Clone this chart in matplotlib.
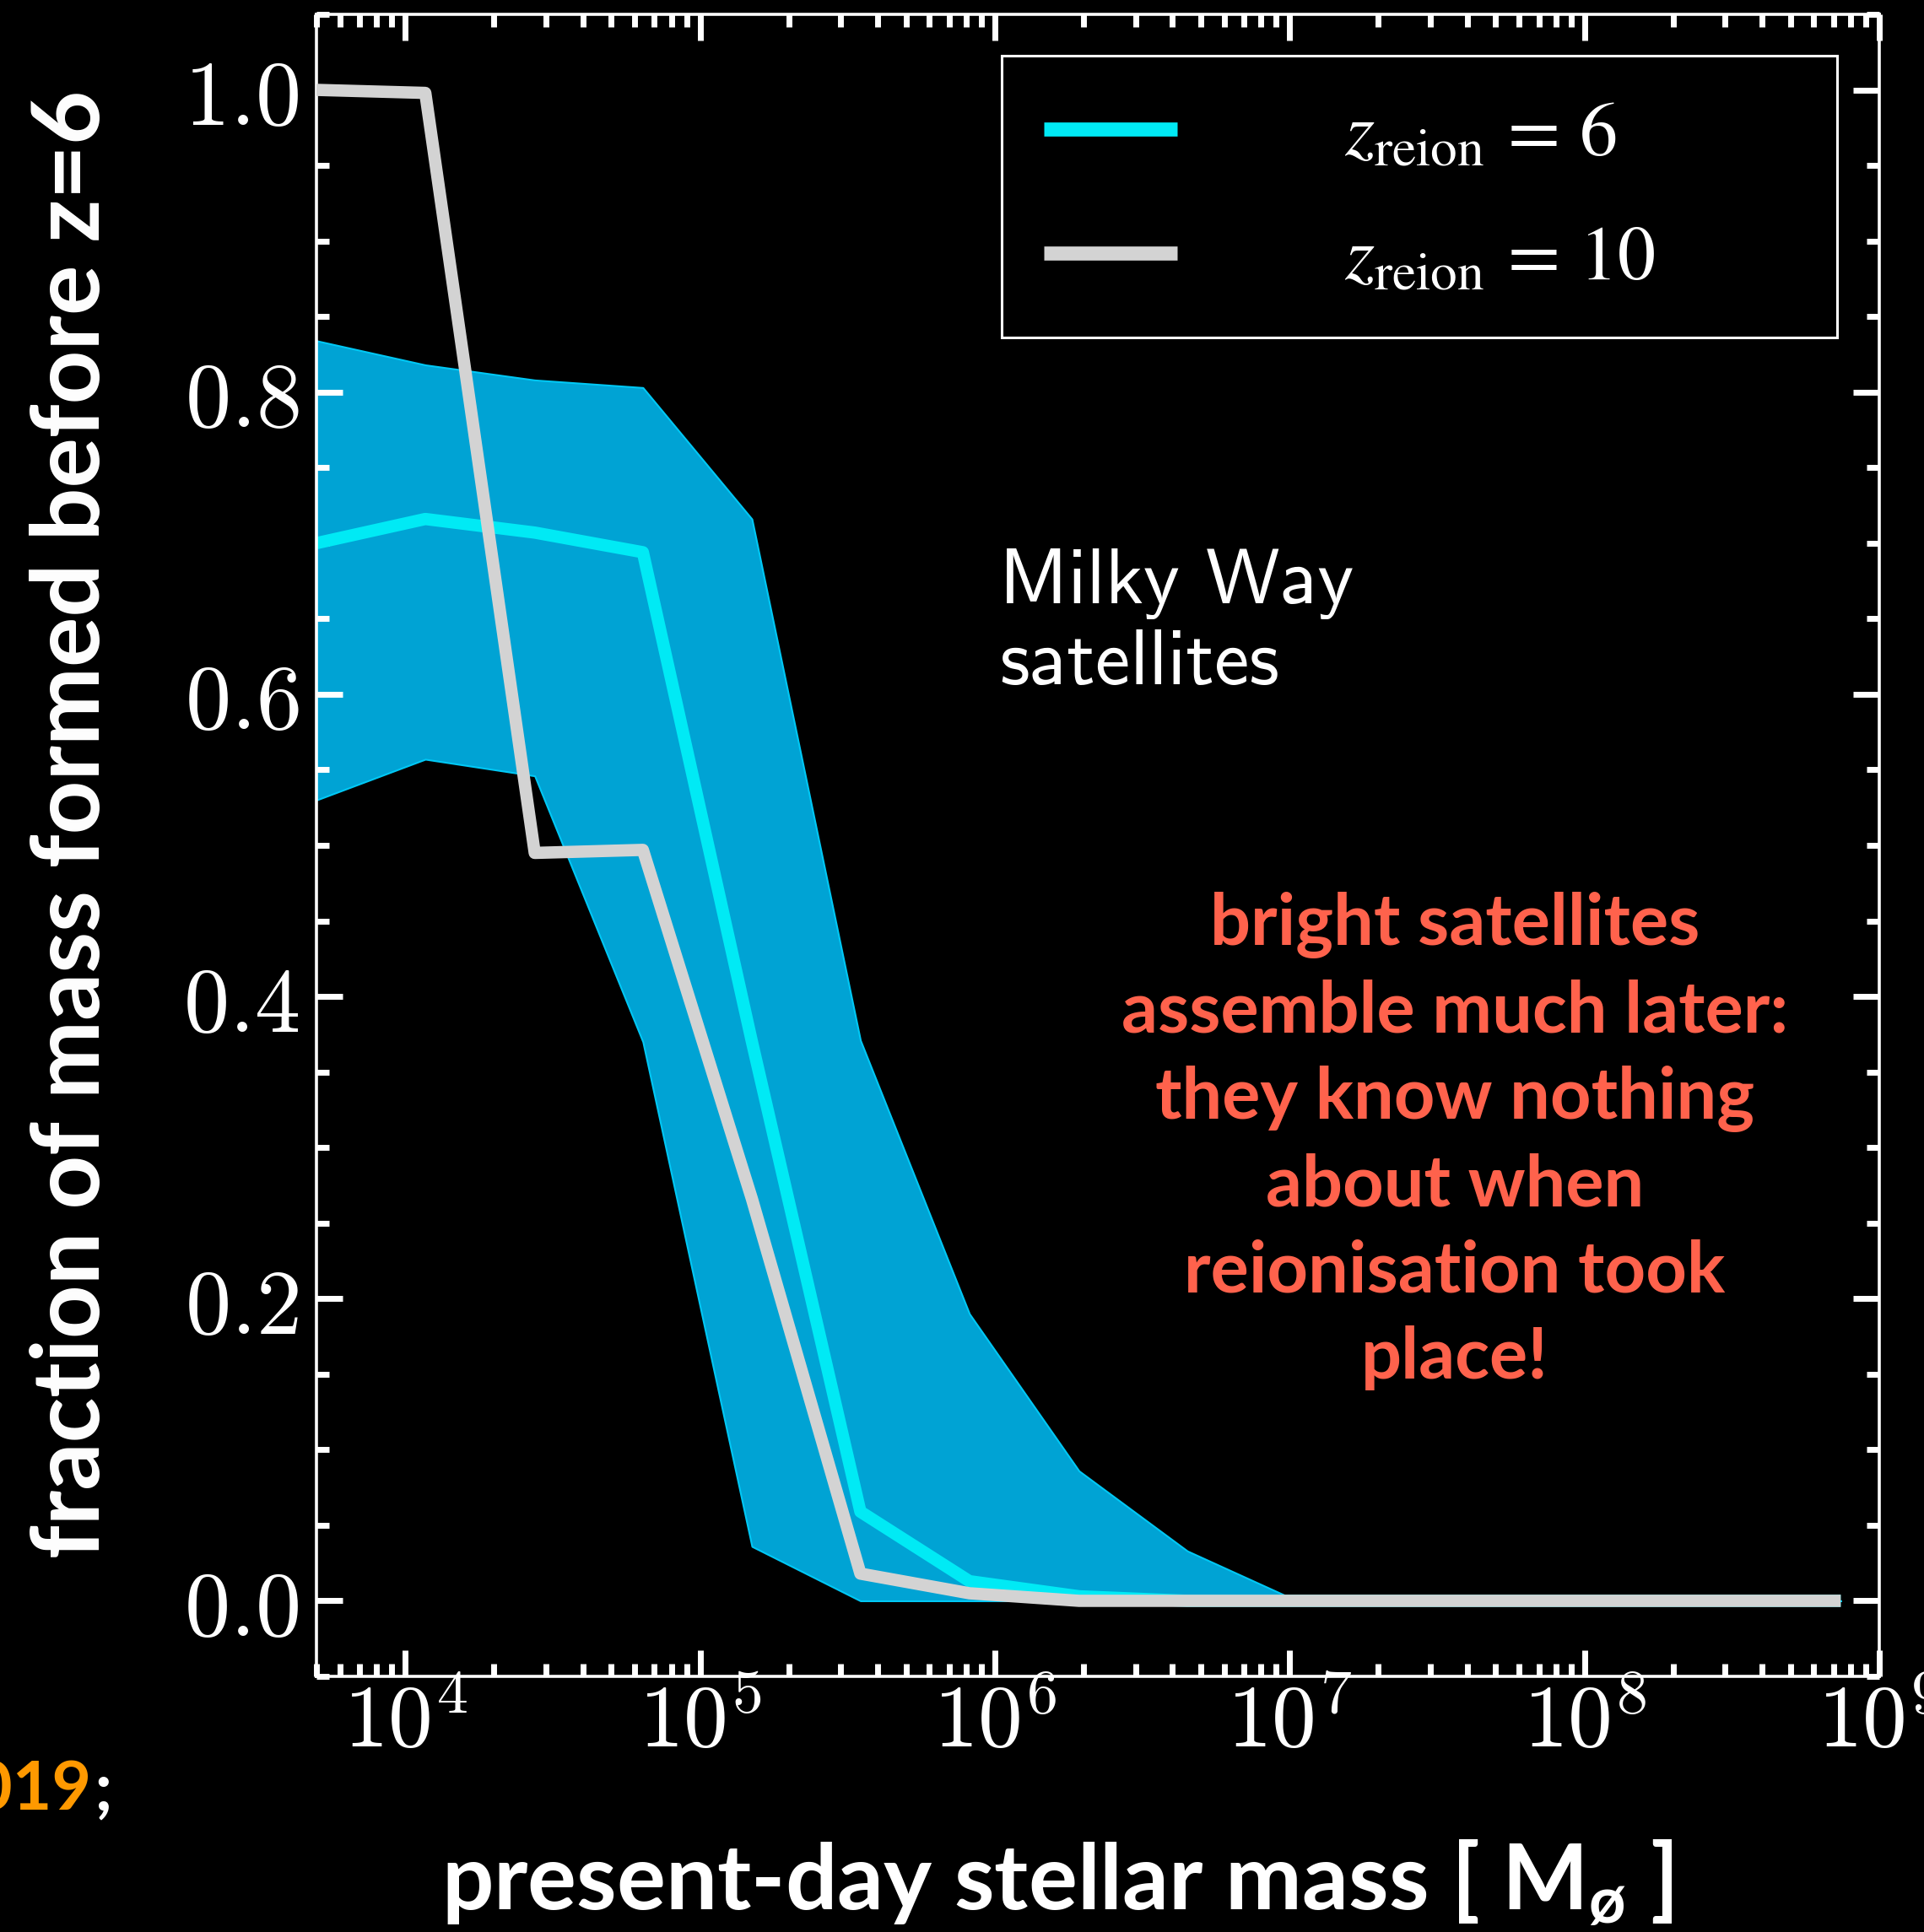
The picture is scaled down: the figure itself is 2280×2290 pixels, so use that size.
import numpy as np
import matplotlib
matplotlib.use('Agg')
import matplotlib.pyplot as plt
from matplotlib.ticker import FixedLocator, FuncFormatter, LogLocator, MultipleLocator, NullFormatter

plt.rcParams['mathtext.fontset'] = 'cm'
plt.rcParams['mathtext.rm'] = 'Lato:bold'
plt.rcParams['mathtext.it'] = 'Lato:bold'
plt.rcParams['mathtext.bf'] = 'Lato:bold'

# present-day stellar mass bins [Msun]
mass = [5.0e3, 1.17e4, 2.75e4, 6.4e4, 1.5e5, 3.5e5, 8.2e5, 1.93e6,
        4.5e6, 1.06e7, 2.47e7, 5.8e7, 1.35e8, 3.17e8, 7.4e8]
# fraction of mass formed before z=6
zr6_median = [0.700, 0.716, 0.707, 0.694, 0.370, 0.059, 0.013, 0.003,
              0.0, 0.0, 0.0, 0.0, 0.0, 0.0, 0.0]
zr6_upper = [0.834, 0.818, 0.808, 0.803, 0.716, 0.371, 0.190, 0.086,
             0.033, 0.0, 0.0, 0.0, 0.0, 0.0, 0.0]
zr6_lower = [0.530, 0.557, 0.546, 0.370, 0.036, 0.0, 0.0, 0.0,
             0.0, 0.0, 0.0, 0.0, 0.0, 0.0, 0.0]
zr10_median = [1.0, 0.998, 0.495, 0.497, 0.266, 0.018, 0.005, 0.0,
               0.0, 0.0, 0.0, 0.0, 0.0, 0.0, 0.0]

labels = [r'$z_{\rm reion}\, =\, 6$', r'$z_{\rm reion}\, =\, 10$']
note = ('bright satellites\nassemble much later:\nthey know nothing\n'
        'about when\nreionisation took\nplace!')

W, H = 2280, 2290
fig = plt.figure(figsize=(W / 100, H / 100), dpi=100, facecolor='black')
ax = fig.add_axes([375 / W, 1 - 1987 / H, 1852 / W, 1970 / H])
ax.set_facecolor('black')

ax.fill_between(mass, zr6_lower, zr6_upper, facecolor='#00a3d4',
                edgecolor='#00c8f5', linewidth=1.5, zorder=1)
ax.plot(mass, zr6_median, color='#00eaf5', lw=10.5, solid_capstyle='butt',
        label=labels[0], zorder=2)
ax.plot(mass, zr10_median, color='#d3d3d3', lw=10.5, solid_capstyle='butt',
        label=labels[1], zorder=3)

ax.set_xscale('log')
ax.set_xlim(5e3, 1e9)
ax.set_ylim(-0.05, 1.05)

ax.xaxis.set_major_locator(FixedLocator([1e4, 1e5, 1e6, 1e7, 1e8, 1e9]))
ax.xaxis.set_minor_locator(LogLocator(base=10, subs=np.arange(2, 10), numticks=20))
ax.xaxis.set_minor_formatter(NullFormatter())
ax.xaxis.set_major_formatter(FuncFormatter(lambda v, p: r'$10^{%d}$' % round(np.log10(v))))
ax.yaxis.set_major_locator(MultipleLocator(0.2))
ax.yaxis.set_minor_locator(MultipleLocator(0.05))
ax.yaxis.set_major_formatter(FuncFormatter(lambda v, p: r'$%.1f$' % v))

ax.tick_params(which='both', direction='in', top=True, right=True,
               colors='white', width=5, labelsize=76)
ax.tick_params(axis='y', labelsize=78)
ax.tick_params(which='major', length=22)
ax.tick_params(which='minor', length=11)
ax.tick_params(axis='y', pad=15)
ax.tick_params(axis='x', pad=3)
for s in ax.spines.values():
    s.set_color('white')
    s.set_linewidth(2.6)

leg = ax.legend(loc='upper left', bbox_to_anchor=(0.4384, 0.0, 0.5346, 0.9751),
                mode='expand', borderaxespad=0, fontsize=65, handlelength=1.75,
                handletextpad=2.2, borderpad=0.55, labelspacing=0.65,
                fancybox=False, facecolor='black', edgecolor='white', framealpha=1)
leg.get_frame().set_linewidth(2.2)
for t in leg.get_texts():
    t.set_color('white')
    t.set_math_fontfamily('stix')
for h in leg.get_lines():
    h.set_linewidth(12)

fig.text(1184 / W, 1 - 650 / H, 'Milky Way\nsatellites',
         color='white', family='cmss10', fontsize=67, ha='left', va='top',
         linespacing=1.19)
fig.text(1724 / W, 1 - 1352 / H, note, color='#ff624c',
         family='Lato', weight='bold', fontsize=61, ha='center', va='center',
         multialignment='center', linespacing=1.40)

fig.text(86 / W, 1 - 977 / H, 'fraction of mass formed before z=6', rotation=90,
         color='white', family='Lato', weight='bold', fontsize=80,
         ha='center', va='center')
xl = fig.text(1253 / W, 1 - 2263 / H, 'present-day stellar mass [ M$_{ø}$ ]',
              color='white', family='Lato', weight='bold', fontsize=78,
              ha='center', va='baseline')
xl.set_math_fontfamily('custom')

fig.text(108 / W, 1 - 2145 / H, '019', color='#ff9900', family='Lato',
         weight='bold', fontsize=58, ha='right', va='baseline')
fig.text(111 / W, 1 - 2145 / H, ';', color='white', family='Lato',
         weight='bold', fontsize=58, ha='left', va='baseline')

fig.savefig('out.png', dpi=100, facecolor='black')
